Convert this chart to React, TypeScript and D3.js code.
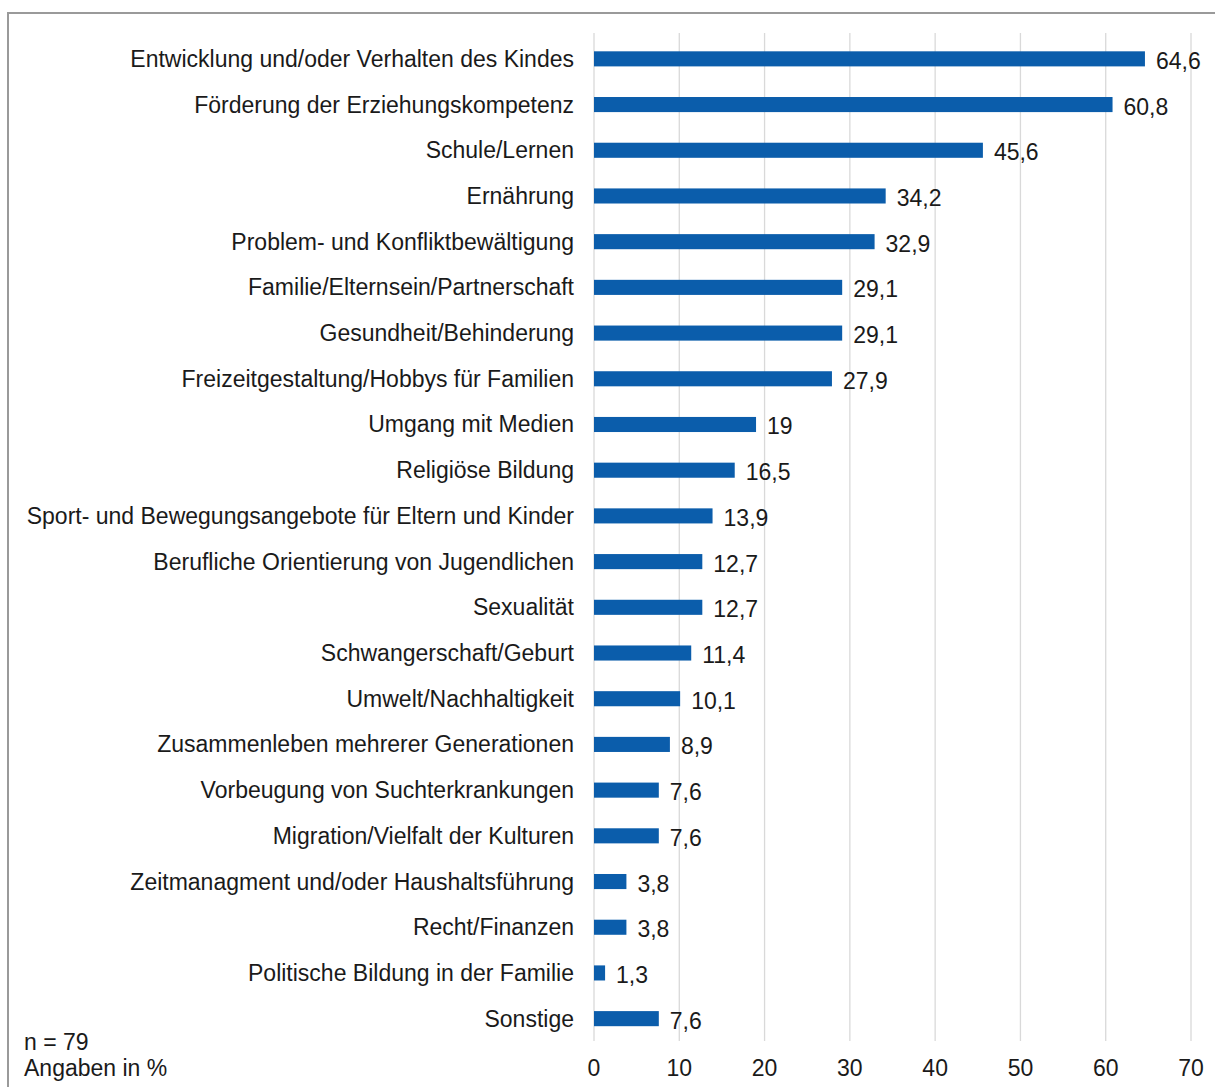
import React from 'react';
import * as d3 from 'd3';

const categories = [
  'Entwicklung und/oder Verhalten des Kindes',
  'Förderung der Erziehungskompetenz',
  'Schule/Lernen',
  'Ernährung',
  'Problem- und Konfliktbewältigung',
  'Familie/Elternsein/Partnerschaft',
  'Gesundheit/Behinderung',
  'Freizeitgestaltung/Hobbys für Familien',
  'Umgang mit Medien',
  'Religiöse Bildung',
  'Sport- und Bewegungsangebote für Eltern und Kinder',
  'Berufliche Orientierung von Jugendlichen',
  'Sexualität',
  'Schwangerschaft/Geburt',
  'Umwelt/Nachhaltigkeit',
  'Zusammenleben mehrerer Generationen',
  'Vorbeugung von Suchterkrankungen',
  'Migration/Vielfalt der Kulturen',
  'Zeitmanagment und/oder Haushaltsführung',
  'Recht/Finanzen',
  'Politische Bildung in der Familie',
  'Sonstige',
];

const values = [64.6, 60.8, 45.6, 34.2, 32.9, 29.1, 29.1, 27.9, 19, 16.5, 13.9, 12.7, 12.7, 11.4, 10.1, 8.9, 7.6, 7.6, 3.8, 3.8, 1.3, 7.6];

const ticks = [0, 10, 20, 30, 40, 50, 60, 70];

const notes = ['n = 79', 'Angaben in %'];

const W = 1215;
const H = 1087;
const font = '"Liberation Sans", Arial, sans-serif';
const barColor = '#0b5dab';
const fs = 23;

export default function App() {
  const x = d3.scaleLinear().domain([0, 70]).range([594, 1191]);
  const y = d3.scaleBand<string>().domain(categories).range([36, 1041.5]).paddingInner(0.67).paddingOuter(0.335);
  const fmt = (v: number) => String(v).replace('.', ',');

  return (
    <svg width={W} height={H} style={{ position: 'absolute', left: 0, top: 0 }} fontFamily={font}>
      <rect x={0} y={0} width={W} height={H} fill="#fff" />
      {/* frame: only top and left edges visible */}
      <line x1={8} y1={13} x2={W} y2={13} stroke="#9a9a9a" strokeWidth={2} />
      <line x1={8} y1={12} x2={8} y2={H} stroke="#9a9a9a" strokeWidth={2} />

      {ticks.map((t) => (
        <g key={t}>
          <line x1={x(t)} x2={x(t)} y1={33} y2={1041} stroke="#d9d9d9" strokeWidth={1.3} />
          <text x={x(t)} y={1068} textAnchor="middle" dominantBaseline="central" fontSize={fs} fill="#1a1a1a">
            {t}
          </text>
        </g>
      ))}

      {categories.map((c, i) => {
        const yc = (y(c) as number) + y.bandwidth() / 2;
        return (
          <g key={c}>
            <text x={574} y={yc} textAnchor="end" dominantBaseline="central" fontSize={fs} fill="#1a1a1a">
              {c}
            </text>
            <rect x={x(0)} y={y(c)} width={x(values[i]) - x(0)} height={y.bandwidth()} fill={barColor} />
            <text x={x(values[i]) + 11} y={yc + 2} dominantBaseline="central" fontSize={fs} fill="#1a1a1a">
              {fmt(values[i])}
            </text>
          </g>
        );
      })}

      {notes.map((n, i) => (
        <text key={n} x={24} y={1042 + i * 26} dominantBaseline="central" fontSize={fs} fill="#1a1a1a">
          {n}
        </text>
      ))}
    </svg>
  );
}
